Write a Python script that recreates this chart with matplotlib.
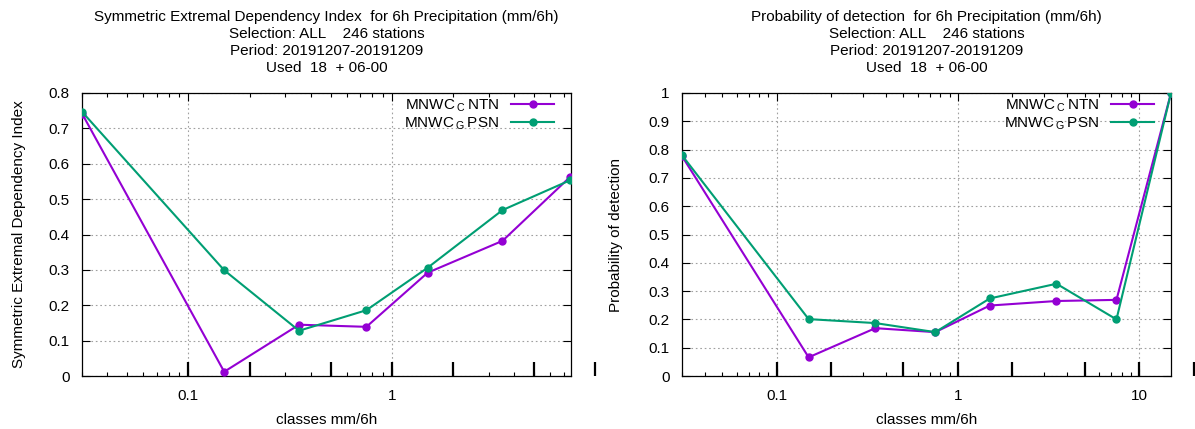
import matplotlib
matplotlib.use("Agg")
import matplotlib.pyplot as plt
import matplotlib.transforms as mtransforms
from matplotlib.ticker import FixedLocator, FixedFormatter, NullFormatter

plt.rcParams['font.family'] = ['Liberation Sans', 'DejaVu Sans']
plt.rcParams['mathtext.fontset'] = 'custom'
plt.rcParams['mathtext.rm'] = 'Liberation Sans'
plt.rcParams['font.size'] = 11

#------------------------------------------data----------------------------------------------------
# left panel: SEDI
sedi_classes = [0.03, 0.15, 0.35, 0.75, 1.5, 3.5, 7.5]
sedi_cntn = [0.742, 0.012, 0.145, 0.139, 0.292, 0.382, 0.562]
sedi_gpsn = [0.747, 0.299, 0.128, 0.186, 0.306, 0.469, 0.553]

# right panel: POD
pod_classes = [0.03, 0.15, 0.35, 0.75, 1.5, 3.5, 7.5, 15]
pod_cntn = [0.777, 0.066, 0.169, 0.155, 0.249, 0.265, 0.269, 1.0]
pod_gpsn = [0.780, 0.201, 0.187, 0.155, 0.274, 0.326, 0.200, 1.0]

sedi_marks = [0.1, 0.2, 0.5, 1, 2, 5, 10]
pod_marks = [0.1, 0.2, 0.5, 1, 2, 5, 10, 20]

sedi_yticks = [0, 0.1, 0.2, 0.3, 0.4, 0.5, 0.6, 0.7, 0.8]
sedi_ylabels = ['0', '0.1', '0.2', '0.3', '0.4', '0.5', '0.6', '0.7', '0.8']
pod_yticks = [0, 0.1, 0.2, 0.3, 0.4, 0.5, 0.6, 0.7, 0.8, 0.9, 1.0]
pod_ylabels = ['0', '0.1', '0.2', '0.3', '0.4', '0.5', '0.6', '0.7', '0.8', '0.9', '1']

label_cntn = r'MNWC$\,_\mathrm{C}\,$NTN'
label_gpsn = r'MNWC$\,_\mathrm{G}\,$PSN'
sub_title = "\nSelection: ALL    246 stations\nPeriod: 20191207-20191209\nUsed  18  + 06-00"

purple = '#9400d3'
green = '#009e73'

W, H = 1195, 429
fig = plt.figure(figsize=(W / 100, H / 100), dpi=100)


def panel(rect, xs, cntn, gpsn, xlim, yticks, ylabels, majors, marks, title, ylabel, ylab_off):
    ax = fig.add_axes(rect)
    ax.set_xscale('log')
    ax.plot(xs, cntn, '-o', color=purple, lw=1.5, ms=5, label=label_cntn, zorder=3)
    ax.plot(xs, gpsn, '-o', color=green, lw=1.5, ms=5, label=label_gpsn, zorder=3)
    ax.set_xlim(*xlim)
    ax.set_ylim(yticks[0], yticks[-1])

    ax.yaxis.set_major_locator(FixedLocator(yticks))
    ax.yaxis.set_major_formatter(FixedFormatter(ylabels))
    ax.xaxis.set_major_locator(FixedLocator(majors))
    ax.xaxis.set_major_formatter(FixedFormatter([('%g' % m) for m in majors]))
    minors = [m * d for d in [0.01, 0.1, 1, 10] for m in range(2, 10)]
    ax.xaxis.set_minor_locator(FixedLocator(minors))
    ax.xaxis.set_minor_formatter(NullFormatter())

    ax.tick_params(which='both', direction='in', top=True, right=True, colors='black', labelsize=11)
    ax.tick_params(which='major', length=6, width=0.8)
    ax.tick_params(which='minor', length=3, width=0.8)
    ax.tick_params(axis='y', pad=9)
    ax.tick_params(axis='x', pad=9)
    for s in ax.spines.values():
        s.set_linewidth(0.9)

    ax.grid(True, which='major', color='#a0a0a0', linestyle=(0, (1.5, 2.5)), lw=0.8)

    # class boundary marks along the bottom
    trans = mtransforms.blended_transform_factory(ax.transData, ax.transAxes)
    ax.vlines(marks, 0, 0.05, colors='black', lw=1.6, transform=trans, clip_on=False, zorder=4)

    ax.set_title(title + sub_title, fontsize=11, pad=15, linespacing=1.28)
    ax.set_ylabel(ylabel, fontsize=11)
    ax.yaxis.set_label_coords(ylab_off, 0.5)
    ax.set_xlabel('classes mm/6h', fontsize=11)
    ax.xaxis.set_label_coords(0.5, -37 / 283)

    ax.legend(loc='upper right', bbox_to_anchor=(1 - 17 / 489, 0.985), frameon=False,
              markerfirst=False, handlelength=2.8, handletextpad=0.8, labelspacing=0.1,
              borderpad=0, borderaxespad=0, fontsize=11)
    return ax


panel([82 / W, 53 / H, 489 / W, 283 / H], sedi_classes, sedi_cntn, sedi_gpsn,
      (0.03, 7.6), sedi_yticks, sedi_ylabels, [0.1, 1], sedi_marks,
      'Symmetric Extremal Dependency Index  for 6h Precipitation (mm/6h)',
      'Symmetric Extremal Dependency Index', -56 / 489)

panel([682 / W, 53 / H, 489 / W, 283 / H], pod_classes, pod_cntn, pod_gpsn,
      (0.03, 15), pod_yticks, pod_ylabels, [0.1, 1, 10], pod_marks,
      'Probability of detection  for 6h Precipitation (mm/6h)',
      'Probability of detection', -59 / 489)

fig.savefig('out.png', dpi=100)
